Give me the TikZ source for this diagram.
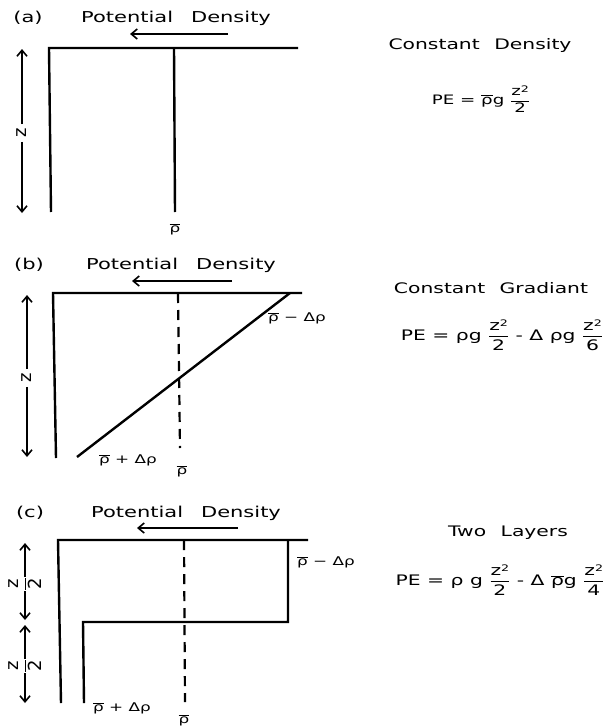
\documentclass[tikz,border=0pt]{standalone}
\usepackage{fontspec}
\setmainfont{DejaVu Sans}[FakeStretch=1.4]
\newfontfamily\plainsf{DejaVu Sans}
\usetikzlibrary{arrows.meta}

\newcommand{\rhob}{\ensuremath{\overline{\mbox{ρ}}}}
\newcommand{\zsq}{z\raisebox{0.5ex}{\small 2}}
\newcommand{\frc}[2]{\ensuremath{\displaystyle\frac{\mbox{#1}}{\mbox{#2}}}}

\begin{document}
\begin{tikzpicture}[x=1pt, y=-1pt,
  wall/.style={line width=2.4pt},
  mean/.style={line width=2.2pt, dash pattern=on 10pt off 7pt},
  dir/.style={-{Straight Barb[length=6pt, width=10pt]}, line width=1.6pt},
  head/.style={font=\fontsize{15}{17}\selectfont, inner sep=1pt},
  casename/.style={font=\fontsize{14.5}{17}\selectfont, inner sep=1pt},
  form/.style={font=\fontsize{14.5}{17}\selectfont, inner sep=1pt},
  lbl/.style={font=\fontsize{12}{14}\selectfont, inner sep=1pt},
  zlbl/.style={rotate=90, font=\plainsf\fontsize{18}{20}\selectfont, inner sep=0pt}
]
\useasboundingbox (0,0) rectangle (610,728);

% (a) constant density
\node[head] (a-tag) at (28,18) {(a)};
\node[head] (a-title) at (176,18) {Potential\hspace{1.2em}Density};
\coordinate (a-arrs) at (228,34);
\coordinate (a-arre) at (130,34);
\draw[dir] (a-arrs) -- (a-arre);
\coordinate (a-top-l) at (49,48);
\coordinate (a-top-r) at (298,48);
\coordinate (a-bot-l) at (51,212);
\coordinate (a-mid-t) at (174,48);
\coordinate (a-mid-b) at (175,212);
\draw[wall] (a-top-r) -- (a-top-l) -- (a-bot-l);
\draw[wall] (a-mid-t) -- (a-mid-b);
\node[lbl] (a-rho) at (175,229) {\rhob};
\node[zlbl, inner sep=4pt] (a-z) at (22,133) {z};
\coordinate (a-z-up) at (22,49);
\coordinate (a-z-dn) at (22,213);
\draw[dir] (a-z) -- (a-z-up);
\draw[dir] (a-z) -- (a-z-dn);
\node[casename] (a-name) at (480,45) {Constant\hspace{1em}Density};
\node[form, font=\fontsize{13}{15}\selectfont] (a-pe) at (481,99) {PE = \rhob g \frc{\zsq}{2}};

% (b) constant gradient
\node[head] (b-tag) at (29,265) {(b)};
\node[head] (b-title) at (181,265) {Potential\hspace{1.2em}Density};
\coordinate (b-arrs) at (232,281);
\coordinate (b-arre) at (132,281);
\draw[dir] (b-arrs) -- (b-arre);
\coordinate (b-top-l) at (53,293);
\coordinate (b-top-r) at (302,293);
\coordinate (b-bot-l) at (56,458);
\coordinate (b-diag-t) at (290,293);
\coordinate (b-diag-b) at (77,457);
\coordinate (b-mid-t) at (178,293);
\coordinate (b-mid-b) at (180,448);
\draw[wall] (b-top-r) -- (b-top-l) -- (b-bot-l);
\draw[wall] (b-diag-t) -- (b-diag-b);
\draw[mean] (b-mid-t) -- (b-mid-b);
\node[lbl] (b-rho) at (182,471) {\rhob};
\node[lbl] (b-low) at (128,460) {\rhob{} + Δρ};
\node[lbl] (b-up) at (297,318) {\rhob{} − Δρ};
\node[zlbl, inner sep=4pt] (b-z) at (27,378) {z};
\coordinate (b-z-up) at (27,295);
\coordinate (b-z-dn) at (27,457);
\draw[dir] (b-z) -- (b-z-up);
\draw[dir] (b-z) -- (b-z-dn);
\node[casename] (b-name) at (491,288) {Constant\hspace{1em}Gradiant};
\node[form] (b-pe) at (502,335) {PE = ρg \frc{\zsq}{2} - Δ ρg \frc{\zsq}{6}};

% (c) two layers
\node[head] (c-tag) at (30,513) {(c)};
\node[head] (c-title) at (186,513) {Potential\hspace{1.2em}Density};
\coordinate (c-arrs) at (238,528);
\coordinate (c-arre) at (137,528);
\draw[dir] (c-arrs) -- (c-arre);
\coordinate (c-top-l) at (58,540);
\coordinate (c-top-r) at (308,540);
\coordinate (c-bot-l) at (61,703);
\coordinate (c-step-t) at (288,540);
\coordinate (c-step-r) at (288,622);
\coordinate (c-step-l) at (83,622);
\coordinate (c-step-b) at (84,703);
\coordinate (c-mid-t) at (184,540);
\coordinate (c-mid-b) at (185,702);
\draw[wall] (c-top-r) -- (c-top-l) -- (c-bot-l);
\draw[wall] (c-step-t) -- (c-step-r) -- (c-step-l) -- (c-step-b);
\draw[mean] (c-mid-t) -- (c-mid-b);
\node[lbl] (c-rho) at (184,720) {\rhob};
\node[lbl] (c-low) at (122,708) {\rhob{} + Δρ};
\node[lbl] (c-up) at (326,562) {\rhob{} − Δρ};
\node[zlbl] (c-z1) at (25,584) {\frc{z}{2}};
\coordinate (c-z1-up) at (25,543);
\coordinate (c-z1-dn) at (25,620);
\draw[dir] (c-z1) -- (c-z1-up);
\draw[dir] (c-z1) -- (c-z1-dn);
\node[zlbl] (c-z2) at (25,666) {\frc{z}{2}};
\coordinate (c-z2-up) at (25,625);
\coordinate (c-z2-dn) at (25,703);
\draw[dir] (c-z2) -- (c-z2-up);
\draw[dir] (c-z2) -- (c-z2-dn);
\node[casename] (c-name) at (508,533) {Two\hspace{1em}Layers};
\node[form] (c-pe) at (500,580) {PE = ρ g \frc{\zsq}{2} - Δ \rhob g \frc{\zsq}{4}};
\end{tikzpicture}
\end{document}
